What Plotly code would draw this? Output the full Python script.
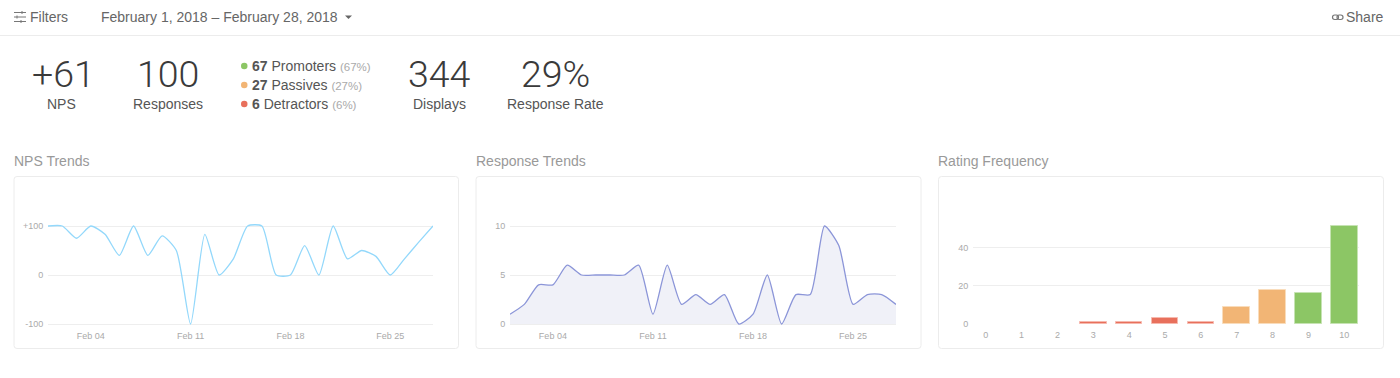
import plotly.graph_objects as go

W, H = 1400, 378
FONT = "Liberation Sans"

days = [f"2018-02-{d:02d}" for d in range(1, 29)]
nps_values = [100, 100, 75, 100, 83, 40, 100, 40, 80, 50, -100, 83, 0, 33, 100, 100, 0, 0, 60, 0, 100, 33, 50, 38, 0, 33, 67, 100]
response_values = [1, 2, 4, 4, 6, 5, 5, 5, 5, 6, 1, 6, 2, 3, 2, 3, 0, 1, 5, 0, 3, 3, 10, 8, 2, 3, 3, 2]
ratings = list(range(11))
rating_counts = [0, 0, 0, 1, 1, 3, 1, 9, 18, 16, 51]
rating_colors = ["#e8705c"] * 7 + ["#f2b575"] * 2 + ["#8cc665"] * 2
rating_edges = ["#f6b9ae"] * 7 + ["#f9dcbb"] * 2 + ["#c6e3b3"] * 2
date_ticks = ["2018-02-04", "2018-02-11", "2018-02-18", "2018-02-25"]
date_labels = ["Feb 04", "Feb 11", "Feb 18", "Feb 25"]
nps_ticks = [-100, 0, 100]
nps_labels = ["-100", "0", "+100"]
stats = [("+61", "NPS", 63, 62), ("100", "Responses", 168, 168), ("344", "Displays", 439, 439), ("29%", "Response Rate", 555, 555)]
breakdown = [("67", "Promoters", "(67%)", "#8cc665", 66), ("27", "Passives", "(27%)", "#f2b575", 85), ("6", "Detractors", "(6%)", "#e8705c", 104)]


def px(x):
    return x / W


def py(y):
    return 1 - y / H


def text(x, y, s, size, color="#555", anchor="left", **font):
    f = dict(family=FONT, size=size, color=color)
    f.update(font)
    return dict(xref="paper", yref="paper", x=px(x), y=py(y), text=s, showarrow=False,
                xanchor=anchor, yanchor="middle", align=anchor, font=f, borderpad=0, borderwidth=0)


def line(x0, y0, x1, y1, color, width=1):
    return dict(type="line", xref="paper", yref="paper", x0=px(x0), y0=py(y0), x1=px(x1), y1=py(y1),
                line=dict(color=color, width=width), layer="below")


def rrect(x0, y0, x1, y1, r):
    P = lambda x, y: f"{px(x):.5f},{py(y):.5f}"
    return (f"M{P(x0 + r, y0)} L{P(x1 - r, y0)} Q{P(x1, y0)} {P(x1, y0 + r)} L{P(x1, y1 - r)} "
            f"Q{P(x1, y1)} {P(x1 - r, y1)} L{P(x0 + r, y1)} Q{P(x0, y1)} {P(x0, y1 - r)} "
            f"L{P(x0, y0 + r)} Q{P(x0, y0)} {P(x0 + r, y0)} Z")


def card(x0, y0, x1, y1, r=3):
    return dict(type="path", xref="paper", yref="paper", path=rrect(x0, y0, x1, y1, r), layer="below",
                line=dict(color="#ececec", width=1), fillcolor="#ffffff")


def link(x0, y0, x1, y1):
    return dict(type="path", xref="paper", yref="paper", path=rrect(x0, y0, x1, y1, 2.2),
                line=dict(color="#777", width=1.2))


fig = go.Figure()
fig.add_trace(go.Scatter(x=days, y=nps_values, mode="lines", xaxis="x", yaxis="y",
                         line=dict(color="#93d8fb", width=1.3, shape="spline", smoothing=0.6)))
fig.add_trace(go.Scatter(x=days, y=response_values, mode="lines", xaxis="x2", yaxis="y2", fill="tozeroy",
                         fillcolor="#f0f1f8", line=dict(color="#8b95d8", width=1.3, shape="spline", smoothing=0.6)))
fig.add_trace(go.Bar(x=ratings, y=rating_counts, xaxis="x3", yaxis="y3", width=0.745,
                     marker=dict(color=rating_colors,
                                 line=dict(color=rating_edges, width=[1 if c else 0 for c in rating_counts]))))

GRID = "#eeeeee"
TICK = dict(family=FONT, size=9, color="#aaaaaa")
xcommon = dict(automargin=False, showgrid=False, zeroline=False, showline=False, ticks="outside", ticklen=1, tickcolor="rgba(0,0,0,0)", tickfont=TICK)
ycommon = dict(automargin=False, showgrid=True, gridcolor=GRID, gridwidth=1, zeroline=False, showline=False, ticks="outside", ticklen=2, tickcolor="rgba(0,0,0,0)", tickfont=TICK)

top, bot = 224.0, 326.0
nps_per_px = 200 / 98
resp_per_px = 10 / 98

annotations = [
    text(30, 17, "Filters", 14, "#666"),
    text(101, 17, "February 1, 2018 – February 28, 2018", 14, "#666"),
    text(1346, 17, "Share", 14, "#666"),
    text(14, 161, "NPS Trends", 14, "#999"),
    text(476, 161, "Response Trends", 14, "#999"),
    text(938, 161, "Rating Frequency", 14, "#999"),
]
for big, small, cx_big, cx_small in stats:
    annotations.append(text(cx_big, 74, big, 37.5, "#3a3a3a", "center", family="Roboto", weight=300))
    annotations.append(text(cx_small, 104, small, 14, "#555", "center"))

shapes = [
    line(0, 35.5, W, 35.5, "#ececec"),
    card(14, 176.5, 458.5, 348.5),
    card(476, 176.5, 921, 348.5),
    card(938.5, 176.5, 1383.5, 348.5),
    line(14, 12.5, 26, 12.5, "#777"), line(14, 17, 26, 17, "#777"), line(14, 21.5, 26, 21.5, "#777"),
    line(22, 11, 22, 14, "#777"), line(17, 15.5, 17, 18.5, "#777"), line(21, 20, 21, 23, "#777"),
    dict(type="path", xref="paper", yref="paper", fillcolor="#666", line=dict(width=0),
         path=f"M{px(345)},{py(15.5)} L{px(352)},{py(15.5)} L{px(348.5)},{py(19)} Z"),
    link(1332.5, 15, 1338.5, 19.5),
    link(1337, 15, 1343, 19.5),
]
for num, label, pct, color, y in breakdown:
    annotations.append(text(252, y, f"<b>{num}</b> {label} <span style='font-size:11.5px;color:#aaa'>{pct}</span>", 14, "#555"))
    shapes.append(dict(type="circle", xref="paper", yref="paper", x0=px(241), x1=px(247.5), y0=py(y + 3.2), y1=py(y - 3.2),
                       fillcolor=color, line=dict(width=0)))

fig.update_layout(
    width=W, height=H, autosize=False, margin=dict(l=0, r=0, t=0, b=0, pad=0), showlegend=False,
    paper_bgcolor="#ffffff", plot_bgcolor="rgba(0,0,0,0)", bargap=0,
    annotations=annotations, shapes=shapes,
    xaxis=dict(domain=[px(48), px(433)], range=["2018-02-01", "2018-02-28"], anchor="y",
               tickvals=date_ticks, ticktext=date_labels, **xcommon),
    yaxis=dict(domain=[py(bot), py(top)], range=[-100 - 2 * nps_per_px, 100 + 2 * nps_per_px], anchor="x",
               tickvals=nps_ticks, ticktext=nps_labels, **ycommon),
    xaxis2=dict(domain=[px(510), px(896)], range=["2018-02-01", "2018-02-28"], anchor="y2",
                tickvals=date_ticks, ticktext=date_labels, **xcommon),
    yaxis2=dict(domain=[py(bot), py(top)], range=[-2 * resp_per_px, 10 + 2 * resp_per_px], anchor="x2",
                tickvals=[0, 5, 10], **ycommon),
    xaxis3=dict(domain=[px(973), px(1359)], range=[-0.354, 10.41], anchor="y3",
                tickvals=ratings, **xcommon),
    yaxis3=dict(domain=[py(325), py(224)], range=[-0.5, 52.2], anchor="x3",
                tickvals=[0, 20, 40], **ycommon),
)

fig.write_html("out.html", config={"displayModeBar": False},
               post_script="document.body.style.margin='0';document.body.style.overflow='hidden';")
